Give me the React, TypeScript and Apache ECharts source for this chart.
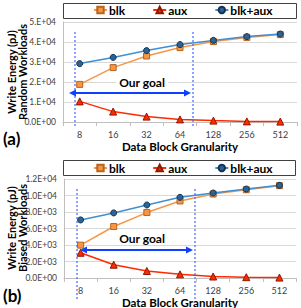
import React, { useEffect, useRef } from "react";
import * as echarts from "echarts";

const categories = ["8", "16", "32", "64", "128", "256", "512"];
const seriesNames = ["blk", "aux", "blk+aux"];
const blkRandom = [18800, 27200, 33000, 37200, 40200, 42300, 43700];
const auxRandom = [10300, 5200, 2700, 1300, 700, 300, 200];
const sumRandom = [29200, 32300, 35700, 38700, 40800, 42700, 44000];
const blkBiased = [3980, 6240, 7930, 9340, 10180, 10700, 11190];
const auxBiased = [3060, 1610, 850, 440, 180, 100, 50];
const sumBiased = [7040, 7890, 8850, 9780, 10300, 10780, 11230];
const yTicksRandom = ["0.0E+00", "1.E+04", "2.E+04", "3.E+04", "4.E+04", "5.E+04"];
const yTicksBiased = ["0.0E+00", "2.0E+03", "4.0E+03", "6.0E+03", "8.0E+03", "1.0E+04", "1.2E+04"];
const panelLabels = ["(a)", "(b)"];
const yTitles = ["Write Energy (pJ)\nRandom Workloads", "Write Energy (pJ)\nBiased Workloads"];
const xTitle = "Data Block Granularity";
const goalText = "Our goal";

const FONT = "Lato, 'Liberation Sans', Arial, sans-serif";

const COLORS = {
  blk: "#F79646",
  blkBorder: "#B5651D",
  aux: "#FF2A00",
  auxBorder: "#8B1A00",
  sum: "#3E8FD4",
  sumMarker: "#2A6496",
  sumBorder: "#16324F",
};

function App() {
  const ref = useRef<HTMLDivElement>(null);
  useEffect(() => {
    if (!ref.current) return;
    const chart = echarts.init(ref.current, null, { renderer: "svg" });

    const grids = [
      { left: 63, top: 22, width: 234, height: 100, containLabel: false, outerBoundsMode: "none" },
      { left: 64, top: 179, width: 232, height: 99, containLabel: false, outerBoundsMode: "none" },
    ];
    const maxes = [50000, 12000];
    const intervals = [10000, 2000];
    const ticks = [yTicksRandom, yTicksBiased];

    const xAxes = grids.map((_, i) => ({
      type: "category",
      gridIndex: i,
      data: categories,
      boundaryGap: true,
      axisLine: { show: true, lineStyle: { color: "#BFBFBF", width: 1 } },
      axisTick: { show: true, length: 4, lineStyle: { color: "#BFBFBF" } },
      axisLabel: { fontFamily: FONT, fontSize: 9, color: "#404040", margin: 8 },
      name: xTitle,
      nameLocation: "middle",
      nameGap: 18,
      nameMoveOverlap: false,
      nameTextStyle: { fontFamily: FONT, fontSize: 11.5, fontWeight: "bold", color: "#000" },
    }));

    const yAxes = grids.map((_, i) => ({
      type: "value",
      gridIndex: i,
      min: 0,
      max: maxes[i],
      interval: intervals[i],
      axisLine: { show: true, lineStyle: { color: "#BFBFBF", width: 1 } },
      axisTick: { show: false },
      splitLine: { show: true, lineStyle: { color: "#D9D9D9", width: 1 } },
      axisLabel: {
        fontFamily: FONT,
        fontSize: 8.5,
        color: "#404040",
        margin: 7,
        formatter: (_v: number, idx: number) => ticks[i][idx],
      },
    }));

    const data = [
      [blkRandom, auxRandom, sumRandom],
      [blkBiased, auxBiased, sumBiased],
    ];

    const series: any[] = [];
    for (let g = 0; g < 2; g++) {
      series.push({
        name: seriesNames[0],
        type: "line",
        xAxisIndex: g,
        yAxisIndex: g,
        data: data[g][0],
        symbol: "rect",
        symbolSize: 6,
        lineStyle: { color: COLORS.blk, width: 1.5 },
        itemStyle: { color: COLORS.blk, borderColor: COLORS.blkBorder, borderWidth: 1 },
        z: 2,
      });
      series.push({
        name: seriesNames[1],
        type: "line",
        xAxisIndex: g,
        yAxisIndex: g,
        data: data[g][1],
        symbol: "triangle",
        symbolSize: 7,
        lineStyle: { color: COLORS.aux, width: 1.5 },
        itemStyle: { color: COLORS.aux, borderColor: COLORS.auxBorder, borderWidth: 1 },
        z: 3,
      });
      series.push({
        name: seriesNames[2],
        type: "line",
        xAxisIndex: g,
        yAxisIndex: g,
        data: data[g][2],
        symbol: "circle",
        symbolSize: 6,
        lineStyle: { color: COLORS.sum, width: 1.5 },
        itemStyle: { color: COLORS.sumMarker, borderColor: COLORS.sumBorder, borderWidth: 1 },
        z: 4,
      });
    }

    const legends = [4, 162].map((top) => ({
      top,
      left: 93,
      orient: "horizontal",
      itemWidth: 13,
      itemHeight: 8,
      itemGap: 27,
      padding: 0,
      z: 10,
      data: seriesNames,
      textStyle: { fontFamily: FONT, fontSize: 12, fontWeight: "bold", color: "#000", padding: [0, 0, 0, -3] },
      selectedMode: false,
    }));

    const arrowColor = "#1040FF";
    const dashColor = "#4466FF";
    const annot = [
      { dx1: 75, dx2: 193, dy1: 32, dy2: 128, ay: 93, ax1: 69, ax2: 191, gy: 82, gx: 142, ly: 138, boxY: 3, boxX: 63, boxW: 233, ty: 72 },
      { dx1: 77, dx2: 195, dy1: 189, dy2: 301, ay: 250, ax1: 80, ax2: 193, gy: 238, gx: 142, ly: 295, boxY: 160, boxX: 63, boxW: 232, ty: 228 },
    ];
    const graphic: any[] = [];
    annot.forEach((a, i) => {
      graphic.push({
        type: "rect",
        shape: { x: a.boxX + 0.5, y: a.boxY + 0.5, width: a.boxW, height: 15 },
        style: { fill: "#fff", stroke: "#404040", lineWidth: 1 },
        z: 1,
      });
      [a.dx1, a.dx2].forEach((x) => {
        graphic.push({
          type: "line",
          shape: { x1: x, y1: a.dy1, x2: x, y2: a.dy2 },
          style: { stroke: dashColor, lineWidth: 1.2, lineDash: [2, 2] },
          z: 5,
        });
      });
      graphic.push({
        type: "line",
        shape: { x1: a.ax1 + 4, y1: a.ay, x2: a.ax2 - 4, y2: a.ay },
        style: { stroke: arrowColor, lineWidth: 2 },
        z: 5,
      });
      graphic.push({
        type: "polygon",
        shape: { points: [[a.ax1, a.ay], [a.ax1 + 7, a.ay - 3.5], [a.ax1 + 7, a.ay + 3.5]] },
        style: { fill: arrowColor },
        z: 5,
      });
      graphic.push({
        type: "polygon",
        shape: { points: [[a.ax2, a.ay], [a.ax2 - 7, a.ay - 3.5], [a.ax2 - 7, a.ay + 3.5]] },
        style: { fill: arrowColor },
        z: 5,
      });
      graphic.push({
        type: "text",
        x: a.gx,
        y: a.gy,
        style: {
          text: goalText,
          fontFamily: FONT,
          fontSize: 12,
          fontWeight: "bold",
          fill: "#000",
          align: "center",
          verticalAlign: "middle",
          backgroundColor: "#fff",
          padding: [0, 3],
        },
        z: 6,
      });
      graphic.push({
        type: "text",
        x: 3,
        y: a.ly,
        style: {
          text: panelLabels[i],
          fontFamily: FONT,
          fontSize: 17,
          fontWeight: "bold",
          fill: "#000",
          align: "left",
          verticalAlign: "middle",
        },
        z: 6,
      });
      graphic.push({
        type: "text",
        x: 16.5,
        y: a.ty,
        rotation: Math.PI / 2,
        style: {
          text: yTitles[i],
          fontFamily: FONT,
          fontSize: 11,
          lineHeight: 11,
          fontWeight: "bold",
          fill: "#000",
          align: "center",
          verticalAlign: "middle",
        },
        z: 6,
      });
    });

    chart.setOption({
      animation: false,
      backgroundColor: "#fff",
      grid: grids,
      xAxis: xAxes,
      yAxis: yAxes,
      legend: legends,
      series,
      graphic,
    });
    return () => chart.dispose();
  }, []);
  return (
    <div
      ref={ref}
      style={{ position: "absolute", left: 0, top: 0, width: 301, height: 308 }}
    />
  );
}

export default App;
